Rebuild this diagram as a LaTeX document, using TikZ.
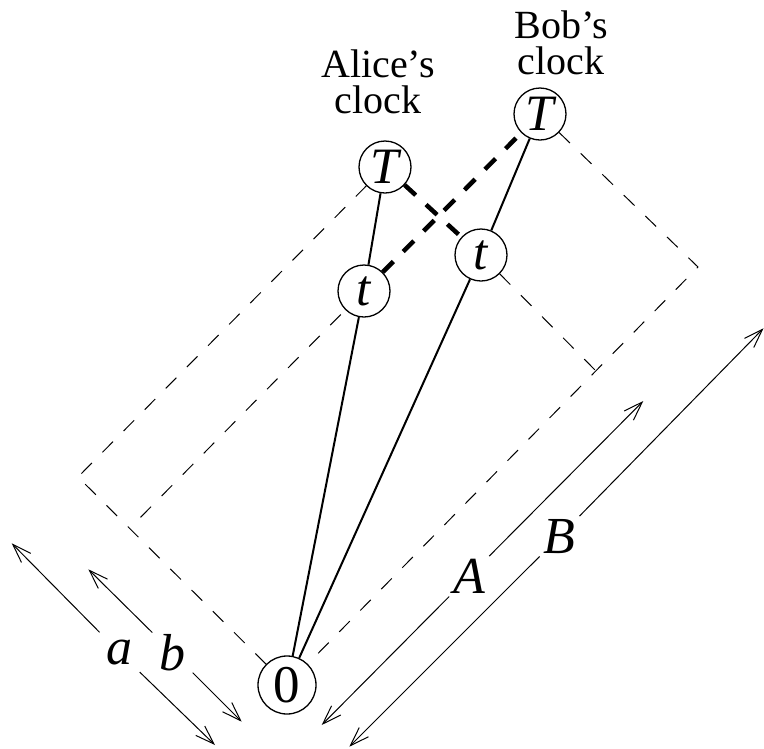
\documentclass[tikz,border=0pt]{standalone}
\usepackage{fontspec}
\setmainfont{Liberation Serif}
\usetikzlibrary{arrows.meta}
\begin{document}
\begin{tikzpicture}[x=1pt,y=-1pt,
  clk/.style={circle, draw, line width=1.3pt, inner sep=0pt, minimum size=52pt, font=\fontsize{51}{51}\selectfont\itshape},
  orig/.style={circle, draw, line width=1.3pt, inner sep=0pt, minimum size=58pt, font=\fontsize{53}{53}\selectfont},
  world/.style={line width=2pt},
  cone/.style={line width=1pt, dash pattern=on 15pt off 15pt},
  signal/.style={line width=4.5pt, dash pattern=on 15pt off 14pt},
  dim/.style={line width=1pt, -{Straight Barb[length=19pt,width=13pt]}},
  dimlabel/.style={inner sep=0pt, minimum size=40pt, font=\fontsize{52}{52}\selectfont\itshape},
  caption/.style={inner sep=0pt, align=center, font=\fontsize{40}{36}\selectfont}]

\useasboundingbox (0,0) rectangle (764,748);

% clock readings
\node[orig] (o)  at (287,685) {0};
\node[clk]  (aT) at (385,167) {T};
\node[clk]  (at) at (364,291) {t};
\node[clk]  (bT) at (540,114) {T};
\node[clk]  (bt) at (481,255) {t};

% captions
\node[caption] (alice) at (378,81.4) {Alice’s\\clock};
\node[caption] (bob)   at (561,42.7) {Bob’s\\clock};

% light-cone corners
\coordinate (LA) at (78,477);
\coordinate (LB) at (130,528);
\coordinate (RA) at (596,371);
\coordinate (RB) at (698,267);

% world lines
\draw[world] (o)  -- (at);
\draw[world] (at) -- (aT);
\draw[world] (o)  -- (bt);
\draw[world] (bt) -- (bT);

% light-cone rectangles
\draw[cone] (o) -- (LA) -- (aT);
\draw[cone, dash phase=15pt] (LB) -- (at);
\draw[cone] (bT) -- (RB) -- (o);
\draw[cone] (bt) -- (RA);

% signals
\draw[signal] (at) -- (bT);
\draw[signal] (aT) -- (bt);

% dimension arrows
\coordinate (a1) at (11.7,543.3);
\coordinate (a2) at (215,745);
\coordinate (b1) at (88.3,569.3);
\coordinate (b2) at (241.7,721.7);
\coordinate (A1) at (643.3,401);
\coordinate (A2) at (321.7,725);
\coordinate (B1) at (763.5,328.3);
\coordinate (B2) at (349.3,746.7);

\node[dimlabel] (la) at (119.5,652.5) {a};
\node[dimlabel] (lb) at (172.5,652.5) {b};
\node[dimlabel] (lA) at (469.2,576.3) {A};
\node[dimlabel] (lB) at (559.7,536.3) {B};

\draw[dim] (la) -- (a1);
\draw[dim] (la) -- (a2);
\draw[dim] (lb) -- (b1);
\draw[dim] (lb) -- (b2);
\draw[dim] (lA) -- (A1);
\draw[dim] (lA) -- (A2);
\draw[dim] (lB) -- (B1);
\draw[dim] (lB) -- (B2);
\end{tikzpicture}
\end{document}
